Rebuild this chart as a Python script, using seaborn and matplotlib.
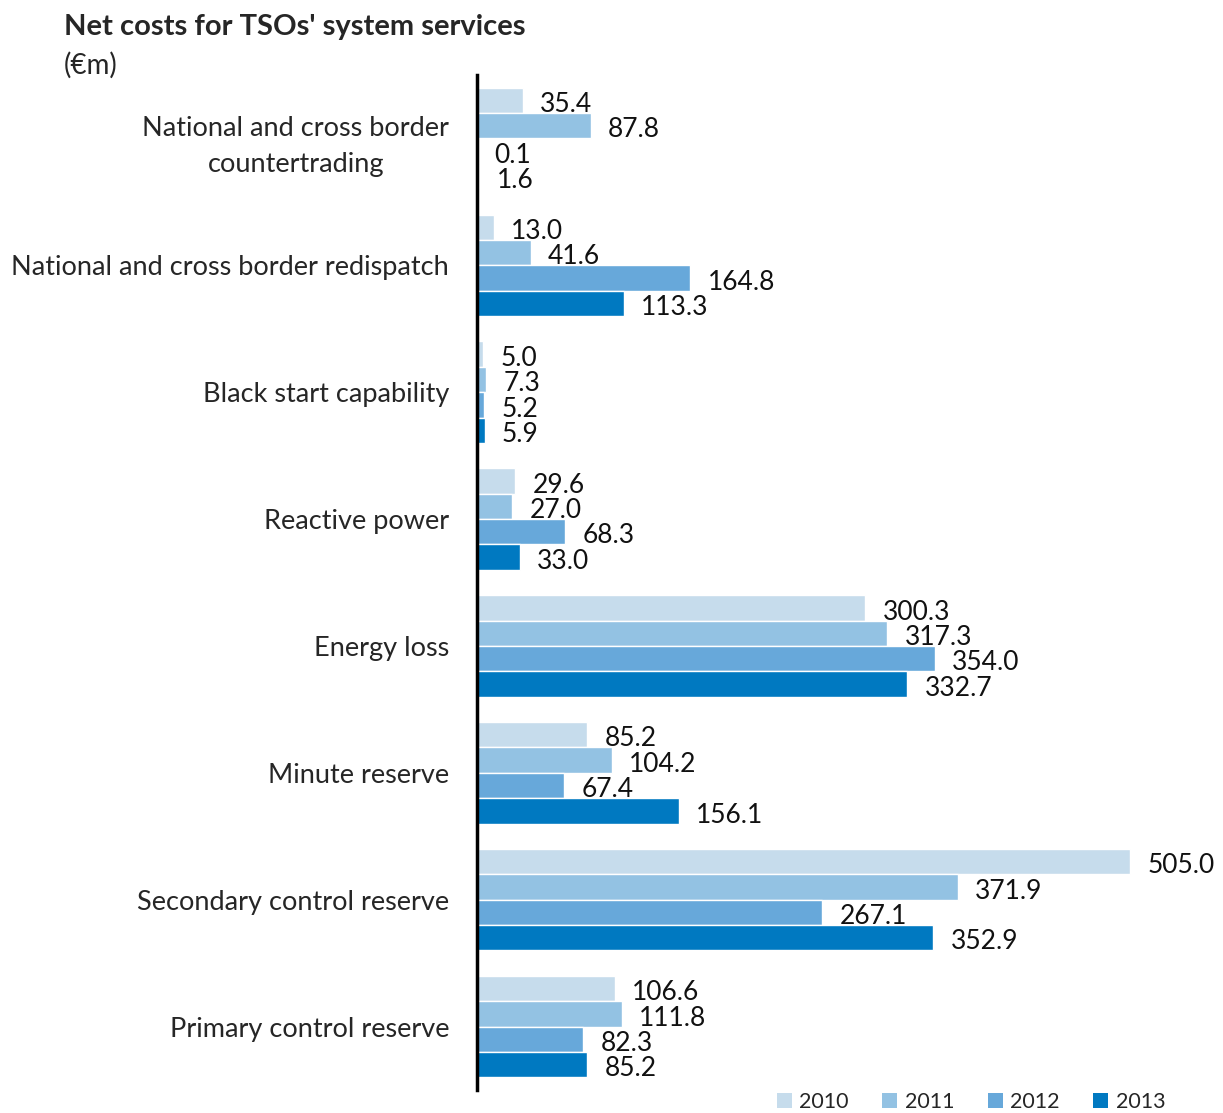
import matplotlib
matplotlib.use("Agg")
import matplotlib.pyplot as plt
import seaborn as sns
import pandas as pd
from matplotlib.patches import Patch

categories = [
    "National and cross border\ncountertrading",
    "National and cross border redispatch",
    "Black start capability",
    "Reactive power",
    "Energy loss",
    "Minute reserve",
    "Secondary control reserve",
    "Primary control reserve",
]
years = ["2010", "2011", "2012", "2013"]
values_2010 = [35.4, 13.0, 5.0, 29.6, 300.3, 85.2, 505.0, 106.6]
values_2011 = [87.8, 41.6, 7.3, 27.0, 317.3, 104.2, 371.9, 111.8]
values_2012 = [0.1, 164.8, 5.2, 68.3, 354.0, 67.4, 267.1, 82.3]
values_2013 = [1.6, 113.3, 5.9, 33.0, 332.7, 156.1, 352.9, 85.2]
colors = ["#c6dcec", "#93c2e3", "#67a8da", "#0079c1"]

series = [values_2010, values_2011, values_2012, values_2013]
rows = []
for year, vals in zip(years, series):
    for cat, v in zip(categories, vals):
        rows.append({"category": cat, "year": year, "value": v})
df = pd.DataFrame(rows)

sns.set_style("white")
plt.rcParams["font.family"] = ["Lato", "DejaVu Sans"]

fig = plt.figure(figsize=(12.23, 11.13), dpi=100)
ax = fig.add_axes([477 / 1223, 1 - 1090 / 1113, (1210 - 477) / 1223, (1090 - 75) / 1113])

sns.barplot(
    data=df, y="category", x="value", hue="year", order=categories,
    hue_order=years, palette=colors, orient="h", width=0.8,
    saturation=1, ax=ax, legend=False, errorbar=None,
)

# value labels, nudged slightly below the bar centre
for container in ax.containers:
    texts = ax.bar_label(container, fmt="%.1f", padding=12.5, fontsize=19, color="#111111")
    for t in texts:
        t.xyann = (12.5, -3)

ax.set_xlim(0, (1210 - 477) / ((1131 - 478) / 505.0))
ax.set_ylim(7.5, -0.5)
ax.set_xlabel("")
ax.set_ylabel("")
ax.set_xticks([])
ax.tick_params(axis="y", length=0, pad=20, labelsize=19.5)
for lbl in ax.get_yticklabels():
    lbl.set_multialignment("center")
    lbl.set_linespacing(1.55)
for side in ["top", "right", "bottom"]:
    ax.spines[side].set_visible(False)
ax.spines["left"].set_linewidth(2.5)
ax.spines["left"].set_color("black")

fig.text(64 / 1223, 1 - 27 / 1113, "Net costs for TSOs' system services",
         fontsize=21, fontweight="bold", va="center", ha="left")
fig.text(64 / 1223, 1 - 65 / 1113, "(€m)", fontsize=20, va="center", ha="left")

handles = [Patch(facecolor=c, edgecolor="none") for c in colors]
fig.legend(handles, years, loc="center right", bbox_to_anchor=(1176 / 1223, 1 - 1102 / 1113),
           ncol=4, frameon=False, fontsize=15.5, handlelength=0.7, handleheight=0.7,
           handletextpad=0.35, columnspacing=1.55, borderpad=0)

fig.savefig("out.png", dpi=100)
